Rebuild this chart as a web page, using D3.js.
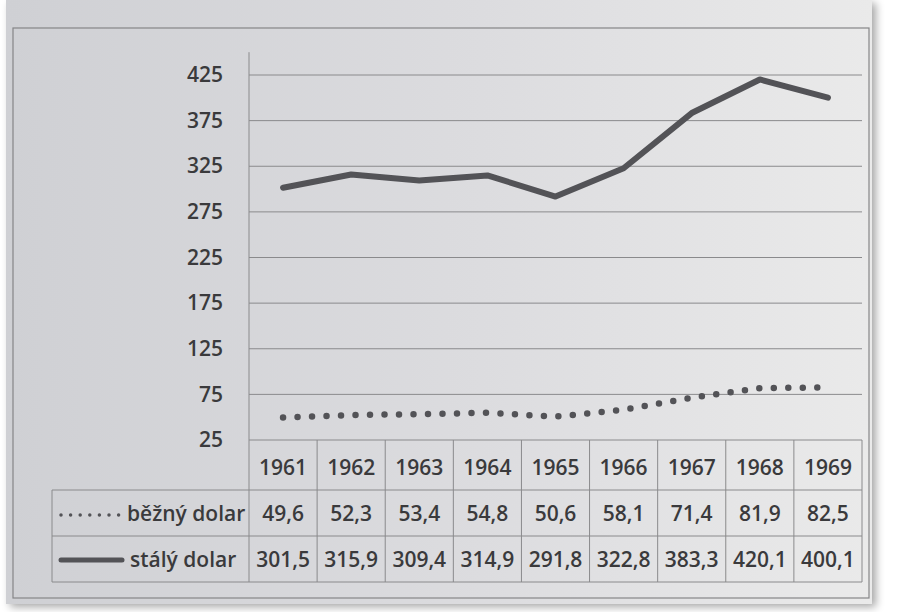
<!DOCTYPE html>
<html>
<head>
<meta charset="utf-8">
<script src="https://cdn.jsdelivr.net/npm/d3@7/dist/d3.min.js"></script>
<style>
  html, body { margin: 0; padding: 0; background: #ffffff; }
  svg { display: block; }
  text { font-family: "Open Sans", "DejaVu Sans", sans-serif; }
</style>
</head>
<body>
<script>
// ---- data ----
const years = ["1961","1962","1963","1964","1965","1966","1967","1968","1969"];
const bezny = [49.6, 52.3, 53.4, 54.8, 50.6, 58.1, 71.4, 81.9, 82.5];
const staly = [301.5, 315.9, 309.4, 314.9, 291.8, 322.8, 383.3, 420.1, 400.1];
const seriesNames = ["běžný dolar", "stálý dolar"];
const yTicks = [25, 75, 125, 175, 225, 275, 325, 375, 425];

const W = 898, H = 612;
const svg = d3.select("body").append("svg").attr("width", W).attr("height", H);

// paper background
const defs = svg.append("defs");
const grad = defs.append("linearGradient").attr("id", "paper")
  .attr("x1", "0%").attr("y1", "0%").attr("x2", "100%").attr("y2", "0%");
grad.append("stop").attr("offset", "0%").attr("stop-color", "#cfd0d4");
grad.append("stop").attr("offset", "55%").attr("stop-color", "#dcdcdf");
grad.append("stop").attr("offset", "100%").attr("stop-color", "#eaeaea");
const shadow = defs.append("filter").attr("id", "sh").attr("x", "-5%").attr("y", "-5%").attr("width", "115%").attr("height", "115%");
shadow.append("feGaussianBlur").attr("in", "SourceAlpha").attr("stdDeviation", 4);
shadow.append("feOffset").attr("dx", 4).attr("dy", 3).attr("result", "b");
shadow.append("feComponentTransfer").append("feFuncA").attr("type", "linear").attr("slope", 0.35);
const m = shadow.append("feMerge");
m.append("feMergeNode");
m.append("feMergeNode").attr("in", "SourceGraphic");

svg.append("rect").attr("x", 6).attr("y", 0).attr("width", 866).attr("height", 604)
  .attr("fill", "url(#paper)").attr("filter", "url(#sh)");

// outer frame
svg.append("rect").attr("x", 13).attr("y", 28).attr("width", 856).attr("height", 570)
  .attr("fill", "none").attr("stroke", "#858587").attr("stroke-width", 1.2);

// ---- scales ----
const plotL = 249, plotR = 862;
const x = d3.scaleBand().domain(years).range([plotL, plotR]).padding(0);
const y = d3.scaleLinear().domain([25, 425]).range([440, 75]);
const yTop = y(450);

const ink = "#535357";
const txt = "#3a3a3c";
const grid = "#8a8a8c";
const fs = 21;

// gridlines
svg.append("g").selectAll("line").data(yTicks.filter(d => d > 25)).join("line")
  .attr("x1", plotL).attr("x2", plotR)
  .attr("y1", d => y(d)).attr("y2", d => y(d))
  .attr("stroke", grid).attr("stroke-width", 1);

// y axis via d3.axisLeft
const yAxis = d3.axisLeft(y).tickValues(yTicks).tickSize(0).tickPadding(26)
  .tickFormat(d3.format("d"));
const gy = svg.append("g").attr("transform", `translate(${plotL},0)`).call(yAxis);
gy.select(".domain").remove();
gy.selectAll("text").attr("font-size", fs).attr("fill", txt)
  .attr("font-family", "'Open Sans', sans-serif").attr("font-weight", 600);

// vertical axis line (from top of plot down through table)
const rowTop = 440, row1 = 490, row2 = 536, row3 = 582;
svg.append("line").attr("x1", plotL).attr("x2", plotL).attr("y1", yTop).attr("y2", row3)
  .attr("stroke", grid).attr("stroke-width", 1);

// ---- lines ----
const cx = d => x(d) + x.bandwidth() / 2;
const line = d3.line().x((d, i) => cx(years[i])).y(d => y(d));

svg.append("path").datum(staly).attr("d", line)
  .attr("fill", "none").attr("stroke", ink).attr("stroke-width", 6)
  .attr("stroke-linejoin", "round").attr("stroke-linecap", "round");

svg.append("path").datum(bezny).attr("d", line)
  .attr("fill", "none").attr("stroke", ink).attr("stroke-width", 6.5)
  .attr("stroke-linecap", "round").attr("stroke-dasharray", "0 14.5");

// ---- data table ----
const tbl = svg.append("g");
const tline = (x1, y1, x2, y2) => tbl.append("line")
  .attr("x1", x1).attr("y1", y1).attr("x2", x2).attr("y2", y2)
  .attr("stroke", grid).attr("stroke-width", 1);

const legL = 52;
tline(plotL, rowTop, plotR, rowTop);
tline(legL, row1, plotR, row1);
tline(legL, row2, plotR, row2);
tline(legL, row3, plotR, row3);
tline(legL, row1, legL, row3);
years.forEach(yr => tline(x(yr) + x.bandwidth(), rowTop, x(yr) + x.bandwidth(), row3));

const fmt = d3.formatLocale({decimal: ",", thousands: " ", grouping: [3], currency: ["", ""]}).format(".1f");

tbl.selectAll("text.yr").data(years).join("text").attr("class", "yr")
  .attr("x", d => cx(d)).attr("y", (rowTop + row1) / 2 + 2)
  .attr("text-anchor", "middle").attr("dominant-baseline", "central")
  .attr("font-size", fs).attr("font-weight", 600).attr("fill", txt).text(d => d);

tbl.selectAll("text.b").data(bezny).join("text").attr("class", "b")
  .attr("x", (d, i) => cx(years[i])).attr("y", (row1 + row2) / 2)
  .attr("text-anchor", "middle").attr("dominant-baseline", "central")
  .attr("font-size", fs).attr("font-weight", 600).attr("fill", txt).text(d => fmt(d));

tbl.selectAll("text.s").data(staly).join("text").attr("class", "s")
  .attr("x", (d, i) => cx(years[i])).attr("y", (row2 + row3) / 2)
  .attr("text-anchor", "middle").attr("dominant-baseline", "central")
  .attr("font-size", fs).attr("font-weight", 600).attr("fill", txt).text(d => fmt(d));

// legend keys
const r1c = (row1 + row2) / 2, r2c = (row2 + row3) / 2;
tbl.append("line").attr("x1", 61).attr("x2", 119).attr("y1", r1c + 2).attr("y2", r1c + 2)
  .attr("stroke", ink).attr("stroke-width", 3.5).attr("stroke-linecap", "round")
  .attr("stroke-dasharray", "0 9.6");
tbl.append("text").attr("x", 127).attr("y", r1c).attr("dominant-baseline", "central")
  .attr("font-size", fs).attr("font-weight", 600).attr("fill", txt).text(seriesNames[0]);
tbl.append("line").attr("x1", 61).attr("x2", 122).attr("y1", r2c + 1).attr("y2", r2c + 1)
  .attr("stroke", ink).attr("stroke-width", 5).attr("stroke-linecap", "round");
tbl.append("text").attr("x", 130).attr("y", r2c).attr("dominant-baseline", "central")
  .attr("font-size", fs).attr("font-weight", 600).attr("fill", txt).text(seriesNames[1]);
</script>
</body>
</html>
